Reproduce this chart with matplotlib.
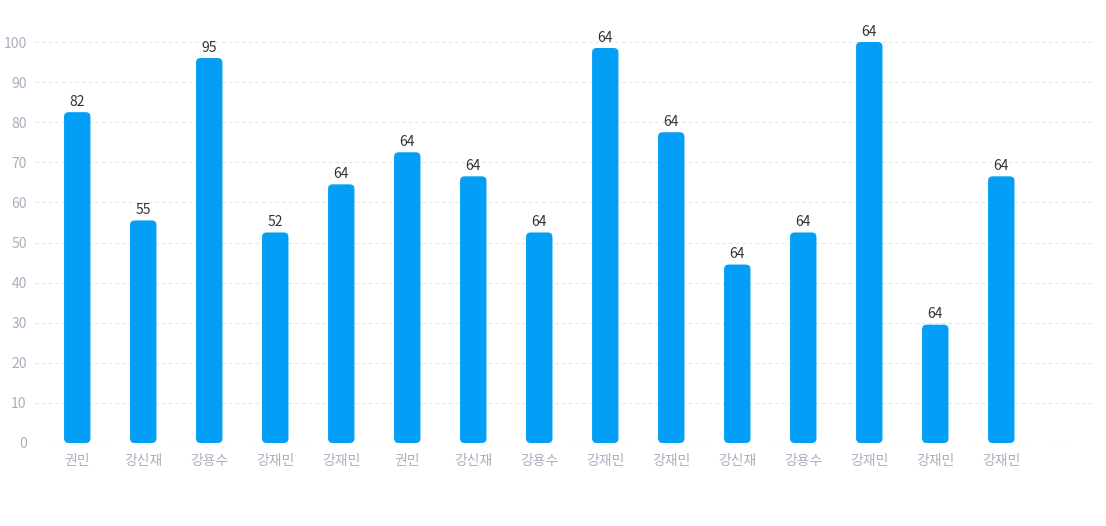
import matplotlib
matplotlib.use('Agg')
import matplotlib.pyplot as plt
from matplotlib.patches import FancyBboxPatch

plt.rcParams['font.family'] = ['Noto Sans CJK KR', 'DejaVu Sans']

names = ['권민', '강신재', '강용수', '강재민', '강재민', '권민', '강신재', '강용수',
         '강재민', '강재민', '강신재', '강용수', '강재민', '강재민', '강재민']
values = [82.5, 55.5, 96, 52.5, 64.5, 72.5, 66.5, 52.5, 98.5, 77.5, 44.5, 52.5, 100, 29.5, 66.5]
labels = ['82', '55', '95', '52', '64', '64', '64', '64', '64', '64', '64', '64', '64', '64', '64']

bar_color = '#039ef5'

fig = plt.figure(figsize=(11.06, 5.26), dpi=100)
ax = fig.add_axes([35 / 1106, 1 - 443 / 526, (1095 - 35) / 1106, (443 - 42) / 526])

x = list(range(len(names)))
ax.set_xlim(-0.64, 15.42)
ax.set_ylim(0, 100)

bars = ax.bar(x, values, width=0.4, color='none')

# rounded bars, radius corrected for the axis aspect
px_x = ax.get_window_extent().width / (15.42 + 0.64)
px_y = ax.get_window_extent().height / 100
aspect = px_x / px_y
for b in bars:
    p = FancyBboxPatch((b.get_x(), b.get_y()), b.get_width(), b.get_height(),
                       boxstyle='round,pad=0,rounding_size=0.07',
                       mutation_aspect=aspect, fc=bar_color, ec='none', zorder=3)
    ax.add_patch(p)

for xi, v, lab in zip(x, values, labels):
    ax.annotate(lab, (xi, v), xytext=(0, 2.5), textcoords='offset points',
                ha='center', va='bottom', fontsize=10, color='#333333',
                fontweight='light', annotation_clip=False)

ax.set_yticks(range(0, 101, 10))
ax.set_xticks(x)
ax.set_xticklabels(names, fontweight='light')
for t in ax.get_yticklabels():
    t.set_fontweight('light')
ax.tick_params(axis='both', length=0, labelsize=10, labelcolor='#aeadbf')
ax.tick_params(axis='x', pad=8)
ax.tick_params(axis='y', pad=6)
ax.grid(axis='y', color='#e4e4e4', linestyle=(0, (3, 3)), linewidth=0.8, zorder=0)
ax.set_axisbelow(True)
for s in ax.spines.values():
    s.set_visible(False)

fig.savefig('out.png', dpi=100)
